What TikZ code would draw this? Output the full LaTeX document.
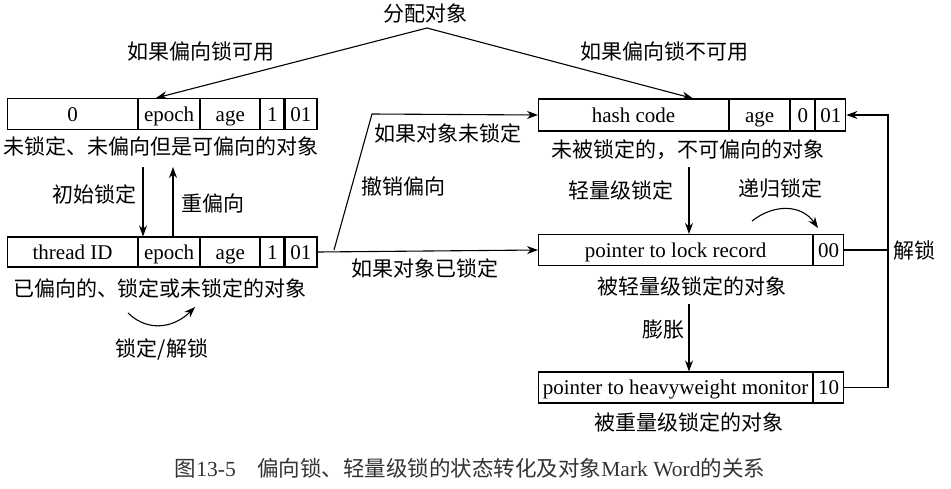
\documentclass[tikz,border=0pt]{standalone}
\usepackage{fontspec}
\setmainfont{Liberation Serif}
\newfontfamily\cjk{Noto Sans CJK SC}
\usetikzlibrary{arrows.meta,positioning,calc}
\begin{document}
\begin{tikzpicture}[x=1pt,y=-1pt,
  line width=1.1pt,
  cell/.style={draw,anchor=west,inner sep=0pt,minimum height=31pt,text height=15pt,text depth=1pt,font=\fontsize{21}{22}\selectfont},
  lbl/.style={inner sep=0pt,font=\cjk\fontsize{21}{24}\selectfont},
  arr/.style={-{Stealth[length=11pt,width=8pt]}},
]
\useasboundingbox (0,0) rectangle (951,488);

% box 1
\node[cell,minimum width=130pt] (a0) at (7,114) {0};
\node[cell,minimum width=61pt] (ae) at (a0.east) {epoch};
\node[cell,minimum width=59pt] (aa) at (ae.east) {age};
\node[cell,minimum width=23pt] (a1) at (aa.east) {1};
\node[cell,minimum width=32pt] (a2) at (a1.east) {01};
\node[lbl] (la) at (161,146) {未锁定、未偏向但是可偏向的对象};

% box 2
\node[cell,minimum width=130pt,minimum height=30pt] (b0) at (7,252) {thread ID};
\node[cell,minimum width=61pt,minimum height=30pt] (be) at (b0.east) {epoch};
\node[cell,minimum width=59pt,minimum height=30pt] (ba) at (be.east) {age};
\node[cell,minimum width=23pt,minimum height=30pt] (b1) at (ba.east) {1};
\node[cell,minimum width=32pt,minimum height=30pt] (b2) at (b1.east) {01};
\node[lbl] (lb) at (160,288) {已偏向的、锁定或未锁定的对象};

% box 3
\node[cell,minimum width=190pt,minimum height=32pt] (c0) at (538,115) {hash code};
\node[cell,minimum width=60pt,minimum height=32pt] (ca) at (c0.east) {age};
\node[cell,minimum width=24pt,minimum height=32pt] (c1) at (ca.east) {0};
\node[cell,minimum width=30pt,minimum height=32pt] (c2) at (c1.east) {01};
\node[lbl] (lc) at (688,150) {未被锁定的，不可偏向的对象};

% box 4
\node[cell,minimum width=274pt] (d0) at (538,250) {pointer to lock record};
\node[cell,minimum width=30pt] (d1) at (d0.east) {00};
\node[lbl] (ld) at (692,286) {被轻量级锁定的对象};

% box 5
\node[cell,minimum width=274pt] (e0) at (538,387.5) {pointer to heavyweight monitor};
\node[cell,minimum width=30pt] (e1) at (e0.east) {10};
\node[lbl] (le) at (689,422) {被重量级锁定的对象};

% labels
\node[lbl] (alloc) at (425,14) {分配对象};
\node[lbl] (t1) at (201,52) {如果偏向锁可用};
\node[lbl] (t2) at (664,52) {如果偏向锁不可用};
\node[lbl,anchor=east] (t3) at (137,194) {初始锁定};
\node[lbl] (t4) at (213,203) {重偏向};
\node[lbl] (t5) at (162,349) {锁定/解锁};
\node[lbl] (t6) at (448,133) {如果对象未锁定};
\node[lbl] (t7) at (403,186) {撤销偏向};
\node[lbl] (t8) at (425,268) {如果对象已锁定};
\node[lbl] (t9) at (621,190) {轻量级锁定};
\node[lbl] (t10) at (780,188) {递归锁定};
\node[lbl] (t11) at (663,330) {膨胀};
\node[lbl] (t12) at (914,250) {解锁};
\node[inner sep=0pt,text=black!80,font=\fontsize{21.5}{24}\selectfont] (cap) at (470,468)
  {{\cjk 图}13-5\hspace{1em}{\cjk 偏向锁、轻量级锁的状态转化及对象}Mark Word{\cjk 的关系}};

% coordinates
\coordinate (apex) at (427,28);
\coordinate (kA) at (334,250);
\coordinate (kB) at (372,114);
\coordinate (rx) at (888,0);
\coordinate (s1) at (128,313);
\coordinate (s2) at (195,307);
\coordinate (r1) at (752,221);
\coordinate (r2) at (818,228);
\coordinate (dn1) at (143,167);
\coordinate (up1) at (173,167);
\coordinate (dn2) at (689,167);
\coordinate (dn3) at (689,304);

% connectors
\draw[arr] (apex) -- ([xshift=18pt]ae.north west);
\draw[arr] (apex) -- ([xshift=-36pt]c0.north east);
\draw[arr] (dn1) -- (dn1 |- be.north);
\draw[arr] (up1 |- be.north) -- (up1);
\draw[arr] (s1) .. controls (150,334) and (176,326) .. (s2);
\draw[arr] (b2.east) -- (d0.west);
\draw[arr] (kA) -- (kB) -- (c0.west);
\draw[arr] (dn2) -- (dn2 |- d0.north);
\draw[arr] (r1) .. controls (775,203) and (802,205) .. (r2);
\draw[arr] (dn3) -- (dn3 |- e0.north);
\draw[arr] (e1.east) -- (e1.east -| rx) |- (c2.east);
\draw (d1.east) -- (d1.east -| rx);
\end{tikzpicture}
\end{document}
